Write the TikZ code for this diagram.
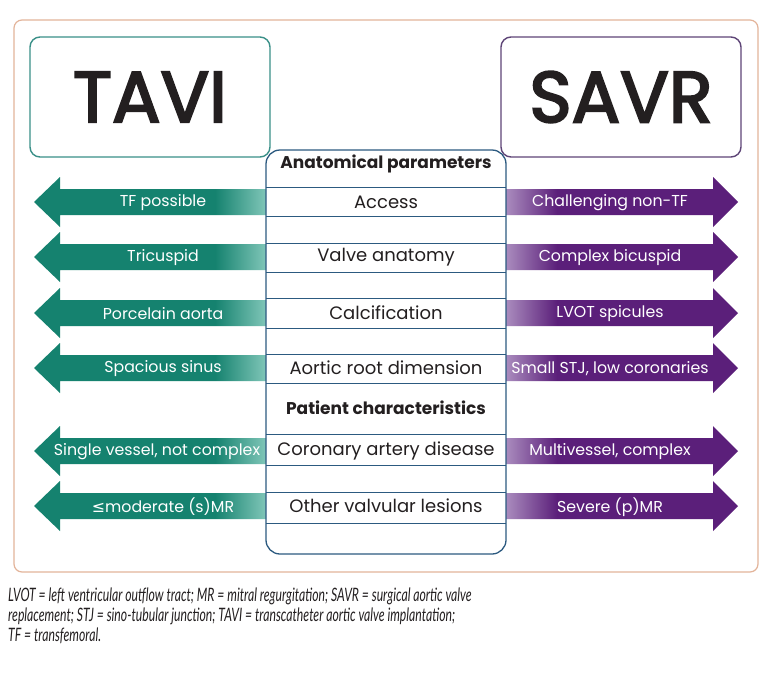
\documentclass[tikz,border=0pt]{standalone}
\usepackage{fontspec}
\setmainfont{Poppins}
\newfontfamily\headfont[FakeBold=3]{Poppins}
\newfontfamily\capfont[FakeStretch=0.66]{Lato}
\newfontfamily\symfont{DejaVu Sans}
\usepackage{xcolor}

\definecolor{txt}{HTML}{231F20}
\definecolor{teald}{HTML}{15826F}
\definecolor{teall}{HTML}{80C6B8}
\definecolor{purpd}{HTML}{5B1F7A}
\definecolor{purpl}{HTML}{AA8CBE}
\definecolor{tavibox}{HTML}{3A9088}
\definecolor{savrbox}{HTML}{5E4577}
\definecolor{tbl}{HTML}{2C5A80}
\definecolor{frame}{HTML}{E3B49A}

\pgfdeclarehorizontalshading{tealfade}{100bp}{color(0bp)=(teald); color(64bp)=(teald); color(75bp)=(teall); color(100bp)=(teall)}
\pgfdeclarehorizontalshading{purpfade}{100bp}{color(0bp)=(purpl); color(25bp)=(purpl); color(36bp)=(purpd); color(100bp)=(purpd)}

\begin{document}
\begin{tikzpicture}[x=1pt,y=-1pt,
    box/.style={draw,line width=1.4pt,rounded corners=10pt,minimum width=240pt,minimum height=120pt,
      font=\headfont\fontsize{72}{72}\selectfont,text=txt},
    rowtext/.style={font=\fontsize{18}{20}\selectfont,text=txt},
    rowhead/.style={font=\fontsize{17}{20}\selectfont\bfseries,text=txt},
    arrtext/.style={font=\fontsize{15.8}{18}\selectfont,text=white}]
\useasboundingbox (0,0) rectangle (769,681);
\fill[white] (0,0) rectangle (769,681);
\draw[frame,line width=1.2pt,rounded corners=8pt] (14,20) rectangle (758,572);

\node[box,draw=tavibox] (tavi) at (150,97) {TAVI};
\node[box,draw=savrbox] (savr) at (621,97) {SAVR};

\foreach \c/\n/\t/\x in {202/tf/TF possible/163, 257/tri/Tricuspid/163, 313/porc/Porcelain aorta/163,
    368/sinus/Spacious sinus/163, 451/single/{Single vessel, not complex}/157,
    506/mod/{{\symfont ≤}moderate (s)MR}/163} {
  \shade[shading=tealfade] (34,\c) -- (60,\c-25) -- (60,\c-13) -- (266,\c-13)
    -- (266,\c+13) -- (60,\c+13) -- (60,\c+25) -- cycle;
  \node[arrtext] (l\n) at (\x,\c+1) {\t};
}
\foreach \c/\n/\t in {202/nontf/Challenging non-TF, 257/bic/Complex bicuspid, 313/lvot/LVOT spicules,
    368/stj/{Small STJ, low coronaries}, 451/multi/{Multivessel, complex},
    506/sev/Severe (p)MR} {
  \shade[shading=purpfade] (738,\c) -- (713,\c-25) -- (713,\c-13) -- (506,\c-13)
    -- (506,\c+13) -- (713,\c+13) -- (713,\c+25) -- cycle;
  \node[arrtext] (r\n) at (610,\c+1) {\t};
}

\draw[tbl,line width=1.3pt,rounded corners=14pt] (266,150) rectangle (506,554);
\foreach \y in {187,216,243,272,298,328,354,383,434,465,492,523}
  \draw[tbl,line width=0.9pt] (266,\y) -- (506,\y);

\node[rowhead] (anat) at (386,164) {Anatomical parameters};
\node[rowtext] (access) at (386,202) {Access};
\node[rowtext] (valve) at (386,257) {Valve anatomy};
\node[rowtext] (calc) at (386,313) {Calcification};
\node[rowtext] (root) at (386,368) {Aortic root dimension};
\node[rowhead] (patient) at (386,408) {Patient characteristics};
\node[rowtext] (cad) at (386,451) {Coronary artery disease};
\node[rowtext] (other) at (386,506) {Other valvular lesions};

\node[anchor=north west,align=left,inner sep=0pt,text=txt,
  font=\capfont\itshape\fontsize{18.5}{20}\selectfont] (abbr) at (8,588)
  {LVOT = left ventricular outflow tract; MR = mitral regurgitation; SAVR = surgical aortic valve\\
   replacement; STJ = sino-tubular junction; TAVI = transcatheter aortic valve implantation;\\
   TF = transfemoral.};
\end{tikzpicture}
\end{document}
